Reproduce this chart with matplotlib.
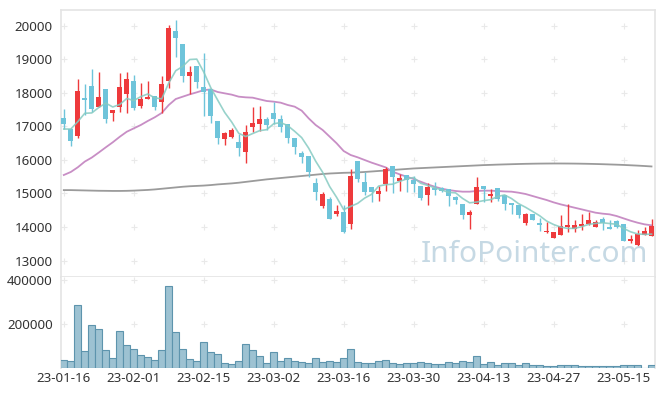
import matplotlib
matplotlib.use("Agg")
import matplotlib.pyplot as plt
import numpy as np
import pandas as pd

# daily candles (index 0 = 23-01-16)
opens = [17240, 16910, 16720, 17810, 18200, 17580, 18100, 17410, 17590, 17950,
         18350, 17620, 17825, 17900, 17730, 18350, 19840, 19450, 18510, 18800,
         18170, 18100, 17160, 16630, 16690, 16530, 16250, 16980, 17070, 17220,
         17390, 17220, 17070, 16640, 16220, 16120, 15320, 14640, 14830, 14380,
         14440, 14100, 15970, 15340, 15190, 14990, 15270, 15820, 15370, 15540,
         15400, 15220, 14950, 15150, 15150, 15120, 14890, 14690, 14370, 14700,
         15220, 14930, 15150, 14950, 14730, 14660, 14110, 14400, 14070, 13845,
         13680, 13750, 14000, 13950, 14040, 14080, 14010, 14230, 13990, 14180,
         14090, 13580, 13460, 13750, 13740]
highs = [17520, 16950, 18410, 18250, 18700, 18630, 18110, 17490, 18580, 18610,
         18520, 18280, 18340, 17910, 18500, 20020, 20170, 19460, 18790, 18810,
         19190, 18120, 17170, 16840, 16940, 16780, 17040, 17570, 17620, 17290,
         17740, 17340, 17070, 16640, 16270, 16120, 15450, 15050, 14900, 14660,
         14660, 15740, 15980, 15630, 15200, 15230, 15800, 15820, 15570, 15540,
         15520, 15230, 15320, 15330, 15200, 15130, 14920, 14690, 14510, 15480,
         15230, 15120, 15160, 14960, 14730, 14670, 14430, 14400, 14260, 14160,
         13860, 14360, 14690, 14210, 14380, 14460, 14210, 14310, 14210, 14210,
         14100, 13760, 13910, 14010, 14230]
lows = [16920, 16410, 16640, 17340, 17420, 17570, 17090, 17150, 17420, 17390,
        17480, 17560, 17820, 17480, 17390, 18130, 19080, 18310, 17950, 18150,
        17320, 17090, 16460, 16430, 16640, 16110, 15900, 16840, 16870, 16890,
        17060, 16840, 16490, 16170, 15900, 15500, 14810, 14560, 14240, 14340,
        13830, 13940, 15350, 14950, 14740, 14780, 15070, 15000, 15080, 15050,
        15050, 14800, 14650, 14950, 15050, 14630, 14680, 14250, 13930, 14690,
        14760, 14740, 14780, 14510, 14390, 14280, 14060, 14200, 13880, 13810,
        13680, 13750, 13860, 13840, 13910, 14060, 13990, 13910, 13950, 13960,
        13590, 13510, 13430, 13750, 13740]
closes = [17060, 16570, 18050, 17800, 17520, 17870, 17220, 17480, 18170, 18410,
          17560, 17810, 17875, 17590, 18260, 19930, 19640, 18510, 18620, 18320,
          18010, 17310, 16640, 16790, 16890, 16340, 16820, 17090, 17220, 17040,
          17220, 16990, 16640, 16370, 16100, 15650, 15050, 14980, 14250, 14480,
          13840, 15520, 15430, 15040, 15040, 15070, 15730, 15500, 15460, 15400,
          15290, 14870, 15190, 15100, 15080, 14920, 14800, 14360, 14450, 15190,
          15130, 14940, 14830, 14690, 14650, 14370, 14400, 14210, 14060, 13855,
          13850, 14020, 14010, 14060, 14100, 14200, 14160, 14110, 13950, 13990,
          13590, 13650, 13790, 13880, 14030]
volumes = [36000, 32000, 286000, 77000, 195000, 177000, 82000, 45000, 168000, 105000,
           86000, 59000, 50000, 36000, 82000, 373000, 164000, 86000, 41000, 32000,
           118000, 73000, 64000, 23000, 18000, 32000, 109000, 82000, 55000, 23000,
           73000, 32000, 45000, 32000, 27000, 23000, 45000, 27000, 32000, 29000,
           44000, 86000, 26000, 21000, 21000, 32000, 36000, 21000, 17000, 21000,
           21000, 26000, 21000, 17000, 17000, 26000, 21000, 30000, 26000, 53000,
           17000, 26000, 12000, 21000, 21000, 12000, 21000, 12000, 12000, 8000,
           8000, 12000, 12000, 12000, 8000, 8000, 8000, 8000, 8000, 8000,
           12000, 12000, 12000, 1000, 12000]

# moving averages
ma5_head = [16920, 16920, 17140, 17390]
ma20 = [15550, 15640, 15780, 15950, 16070, 16220, 16375, 16525, 16690, 16840,
        16940, 17040, 17160, 17270, 17400, 17636, 17815, 17885, 17954, 18014,
        18080, 18100, 18024, 17984, 17945, 17885, 17865, 17855, 17805, 17756,
        17736, 17706, 17637, 17587, 17468, 17239, 17040, 16891, 16693, 16494,
        16265, 16146, 16077, 15997, 15918, 15848, 15778, 15649, 15570, 15500,
        15431, 15351, 15272, 15202, 15143, 15103, 15073, 15053, 15053, 15073,
        15083, 15083, 15073, 15060, 15053, 15023, 14984, 14924, 14864, 14805,
        14735, 14676, 14626, 14576, 14527, 14477, 14427, 14398, 14378, 14328,
        14258, 14189, 14129, 14080, 14050]
ma60 = [15100, 15100, 15095, 15090, 15085, 15080, 15078, 15075, 15075, 15078,
        15085, 15095, 15105, 15120, 15140, 15160, 15180, 15200, 15215, 15225,
        15235, 15250, 15270, 15285, 15300, 15320, 15345, 15370, 15395, 15420,
        15440, 15460, 15480, 15500, 15520, 15540, 15560, 15580, 15595, 15605,
        15615, 15620, 15628, 15640, 15655, 15670, 15685, 15700, 15715, 15730,
        15745, 15755, 15765, 15775, 15785, 15795, 15805, 15815, 15825, 15835,
        15845, 15852, 15860, 15866, 15872, 15878, 15883, 15887, 15890, 15892,
        15893, 15893, 15892, 15890, 15887, 15883, 15878, 15872, 15865, 15858,
        15850, 15840, 15830, 15818, 15805]

tick_labels = ["23-01-16", "23-02-01", "23-02-15", "23-03-02", "23-03-16",
               "23-03-30", "23-04-13", "23-04-27", "23-05-15"]
price_ticks = [13000, 14000, 15000, 16000, 17000, 18000, 19000, 20000]
vol_ticks = [200000, 400000]

df = pd.DataFrame({"open": opens, "high": highs, "low": lows,
                   "close": closes, "volume": volumes})
ma5 = df["close"].rolling(5).mean()
ma5[:4] = ma5_head

plt.rcParams["font.family"] = ["Noto Sans", "DejaVu Sans"]
RED, BLUE = "#ee3a3c", "#6ec4da"
SPINE = "#e4e4e4"
CROSS = "#e9e9e9"

W, H = 665, 396
fig = plt.figure(figsize=(W / 100, H / 100), dpi=100)
ax = fig.add_axes([61 / W, 1 - 277 / H, 594 / W, 267 / H])
axv = fig.add_axes([61 / W, 1 - 368 / H, 594 / W, 91 / H], sharex=ax)

x = np.arange(len(df))
up = df["close"] >= df["open"]
cols = np.where(up, RED, BLUE)

fig.text(648 / W, 1 - 255 / H, "InfoPointer.com", ha="right", va="center",
         fontsize=21.5, color="#c6d9e4", zorder=0)

# faint grid crosses instead of grid lines
gx = x[::10]
for ty in price_ticks:
    ax.plot(gx, [ty] * len(gx), ls="none", marker="+", ms=4, mew=0.8,
            color=CROSS, zorder=1)
for ty in vol_ticks:
    axv.plot(gx, [ty] * len(gx), ls="none", marker="+", ms=4, mew=0.8,
             color=CROSS, zorder=1)

ax.plot(x, ma60, color="#9b9b9b", lw=1.3, zorder=2)
ax.plot(x, ma20, color="#c88ec5", lw=1.3, zorder=2)

ax.vlines(x, df["low"], df["high"], colors=cols, lw=1.0, zorder=3)
body_lo = np.minimum(df["open"], df["close"])
body_h = np.maximum(np.abs(df["close"] - df["open"]), 45)
ax.bar(x, body_h, bottom=body_lo, width=0.72, color=cols, lw=0, zorder=4)

ax.plot(x, ma5, color="#86cbc2", lw=1.2, alpha=0.85, zorder=5)

ax.set_xlim(-0.4, 84.5)
ax.set_ylim(12510, 20468)
ax.set_yticks(price_ticks)
ax.set_yticklabels([str(t) for t in price_ticks])
ax.tick_params(axis="y", length=0, pad=6, labelsize=9.6, labelcolor="#333333")
ax.tick_params(axis="x", length=0, labelbottom=False)
for s in ax.spines.values():
    s.set_color(SPINE)
    s.set_linewidth(1.2)

axv.bar(x, df["volume"], width=0.95, color="#9dc2d2", edgecolor="#5d94ad",
        lw=0.8, zorder=3)
axv.set_ylim(0, 413000)
axv.set_yticks(vol_ticks)
axv.set_yticklabels([str(t) for t in vol_ticks])
axv.set_xticks(gx)
axv.set_xticklabels(tick_labels)
axv.tick_params(axis="y", length=0, pad=6, labelsize=9.6, labelcolor="#333333")
axv.tick_params(axis="x", length=0, pad=3, labelsize=9.6, labelcolor="#333333")
axv.spines["top"].set_visible(False)
axv.spines["bottom"].set_visible(False)
for s in ("left", "right"):
    axv.spines[s].set_color(SPINE)
    axv.spines[s].set_linewidth(1.2)

fig.savefig("out.png", dpi=100)
